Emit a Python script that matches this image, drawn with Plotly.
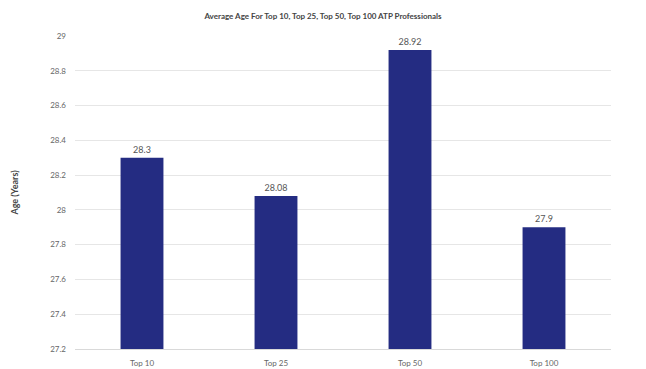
import plotly.graph_objects as go

categories = ["Top 10", "Top 25", "Top 50", "Top 100"]
ages = [28.3, 28.08, 28.92, 27.9]
labels = ["28.3", "28.08", "28.92", "27.9"]
tick_vals = [27.2, 27.4, 27.6, 27.8, 28, 28.2, 28.4, 28.6, 28.8, 29]
tick_text = ["27.2", "27.4", "27.6", "27.8", "28", "28.2", "28.4", "28.6", "28.8", "29"]

base = 27.2
fig = go.Figure(go.Bar(
    x=categories,
    y=[a - base for a in ages],
    base=base,
    width=0.32,
    marker=dict(color="#242c82", line=dict(width=0)),
    text=labels,
    textposition="outside",
    textfont=dict(size=9, color="#555555"),
    cliponaxis=False,
))

fig.update_layout(
    width=646, height=369,
    margin=dict(l=75, r=35, t=36, b=20),
    paper_bgcolor="white", plot_bgcolor="white",
    font=dict(family="Lato", color="#555555", size=9),
    title=dict(text="<b>Average Age For Top 10, Top 25, Top 50, Top 100 ATP Professionals</b>",
               x=0.5, xanchor="center", y=0.955, yanchor="middle",
               font=dict(size=8, color="#444444")),
    showlegend=False,
)
fig.update_yaxes(
    range=[27.2, 29], tickvals=tick_vals, ticktext=tick_text,
    showgrid=True, gridcolor="#e6e6e6", gridwidth=1, zeroline=False,
    tickfont=dict(size=8, color="#666666"), ticks="", ticklen=0,
    ticklabelstandoff=8,
    automargin=False,
    title=dict(text="<b>Age (Years)</b>", font=dict(size=9, color="#444444"), standoff=30),
)
fig.update_xaxes(
    showline=True, linecolor="#d9d9d9", linewidth=1,
    tickfont=dict(size=8, color="#666666"), ticks="",
    ticklabelstandoff=6,
    automargin=False,
)

fig.write_html("out.html")
